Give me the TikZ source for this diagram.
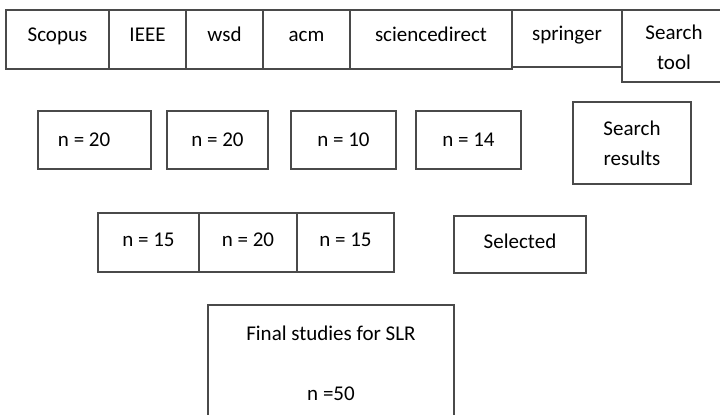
\documentclass[tikz,border=0pt]{standalone}
\usepackage{fontspec}
\setmainfont{Carlito}
\usepackage{xcolor}
\usepackage{tikz}
\definecolor{boxline}{HTML}{4A4A4A}

\begin{document}
\begin{tikzpicture}[
  x=0.5pt, y=-0.5pt,
  bx/.style={rectangle, draw=boxline, line width=0.6pt, inner sep=0pt, align=center, font=\fontsize{10.5}{15}\selectfont},
  one/.style={text height=7.5pt, text depth=#1},
]
\useasboundingbox (0,0) rectangle (720,414);
\clip (0,0) rectangle (720,414);

% Search tool row
\node[bx, one=5.7pt, minimum width=51.5pt, minimum height=29.5pt] (scopus) at (57.5,39.5) {Scopus};
\node[bx, one=5.7pt, minimum width=38.5pt, minimum height=29.5pt] (ieee) at (147.5,39.5) {IEEE};
\node[bx, one=5.7pt, minimum width=38.5pt, minimum height=29.5pt] (wsd) at (224.5,39.5) {wsd};
\node[bx, one=5.7pt, minimum width=43.5pt, minimum height=29.5pt] (acm) at (306.5,39.5) {acm};
\node[bx, one=5.7pt, minimum width=81pt, minimum height=29.5pt] (sd) at (431,39.5) {sciencedirect};
\node[bx, one=5.2pt, minimum width=55pt, minimum height=28.5pt] (spr) at (567,38.5) {springer};
\node[bx, minimum width=52pt, minimum height=36pt] (tool) at (674,46) {\rule{0pt}{9pt}Search\\tool};

% Search results row
\node[bx, one=1.5pt, minimum width=56.5pt, minimum height=29pt, text width=36.5pt, inner xsep=10pt, align=flush left] (r1) at (94.5,140) {n = 20};
\node[bx, one=1.5pt, minimum width=50.5pt, minimum height=29pt] (r2) at (217.5,140) {n = 20};
\node[bx, one=1.5pt, minimum width=52.5pt, minimum height=29pt] (r3) at (343.5,140) {n = 10};
\node[bx, one=1.5pt, minimum width=52.5pt, minimum height=29pt] (r4) at (468.5,140) {n = 14};
\node[bx, minimum width=59pt, minimum height=41pt] (res) at (632,143) {Search\\results};

% Selected row
\node[bx, one=3.2pt, minimum width=50.5pt, minimum height=29.5pt] (s1) at (148.5,242.5) {n = 15};
\node[bx, one=3.2pt, minimum width=49pt, minimum height=29.5pt] (s2) at (248,242.5) {n = 20};
\node[bx, one=3.2pt, minimum width=48.5pt, minimum height=29.5pt] (s3) at (345.5,242.5) {n = 15};
\node[bx, one=3.2pt, minimum width=66pt, minimum height=28.5pt] (sel) at (520,244.5) {Selected};

% Final
\node[bx, minimum width=123pt, minimum height=58pt] (final) at (331,363) {Final studies for SLR\\[15pt]n =50};
\end{tikzpicture}
\end{document}
